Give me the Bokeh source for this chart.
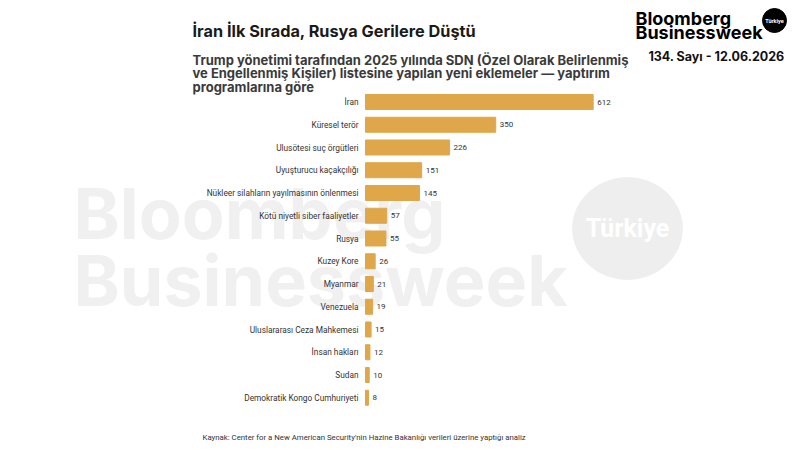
from bokeh.plotting import figure
from bokeh.models import Label, Range1d
from bokeh.core.properties import value
from bokeh.embed import file_html
from bokeh.resources import INLINE

categories = ["İran", "Küresel terör", "Ulusötesi suç örgütleri", "Uyuşturucu kaçakçılığı",
              "Nükleer silahların yayılmasının önlenmesi", "Kötü niyetli siber faaliyetler",
              "Rusya", "Kuzey Kore", "Myanmar", "Venezuela", "Uluslararası Ceza Mahkemesi",
              "İnsan hakları", "Sudan", "Demokratik Kongo Cumhuriyeti"]
values = [612, 350, 226, 151, 145, 57, 55, 26, 21, 19, 15, 12, 10, 8]
value_labels = [str(v) for v in values]

title = "İran İlk Sırada, Rusya Gerilere Düştü"
subtitle = ["Trump yönetimi tarafından 2025 yılında SDN (Özel Olarak Belirlenmiş",
            "ve Engellenmiş Kişiler) listesine yapılan yeni eklemeler — yaptırım",
            "programlarına göre"]
source = "Kaynak: Center for a New American Security'nin Hazine Bakanlığı verileri üzerine yaptığı analiz"
brand = ["Bloomberg", "Businessweek"]
issue = "134. Sayı - 12.06.2026"
badge = "Türkiye"

BAR = "#DFA74A"
FONT = "Roboto"
HEAD = "Inter"

W, H = 800, 450
X0 = 365            # pixel of value 0
K = 227.7 / 612     # pixels per unit
TOP_C, STEP = 101.5, 22.75   # first bar centre (px from top), row step
n = len(categories)
pos = [n - 1 - i for i in range(n)]   # row positions, first category on top

x_range = Range1d(-X0 / K, (W - X0) / K)
y_range = Range1d((n - 1) - (H - TOP_C) / STEP, (n - 1) + TOP_C / STEP)

p = figure(width=W, height=H, output_backend="svg", toolbar_location=None,
           x_range=x_range, y_range=y_range, x_axis_location=None, y_axis_location=None,
           min_border=0, min_border_left=0, min_border_right=0, min_border_top=0, min_border_bottom=0)
p.background_fill_color = "white"
p.border_fill_color = "white"
p.outline_line_color = None
p.grid.visible = False


def px_x(x):
    return (x - X0) / K


def px_y(y):
    return (n - 1) - (y - TOP_C) / STEP


def lab(x, y, text, size, color="#222222", style="normal", align="left", baseline="alphabetic",
        level="annotation", font=FONT):
    l = Label(x=x, y=H - y, x_units="screen", y_units="screen", text=text,
              text_font=font, text_font_size=size, text_color=color, text_font_style=style,
              text_align=align, text_baseline=baseline, level=level)
    p.add_layout(l)
    return l

# watermark
WM = "#f0f0f0"
lab(73, 213, brand[0], "70px", color=WM, style="bold", level="underlay", font=HEAD)
lab(73, 280, brand[1], "70px", color=WM, style="bold", level="underlay", font=HEAD)
p.ellipse(x=[px_x(627)], y=[px_y(228)], width=110 / K, height=102 / STEP,
          color="#eeeeee", level="underlay")
lab(627, 228, badge, "25px", color="white", style="bold", align="center", baseline="middle",
    level="underlay")

# bars
p.hbar(y=pos, right=values, left=0, height=0.66, color=BAR)
p.text(x=values, y=pos, text=value_labels, x_offset=4, text_baseline="middle",
       text_font=value(FONT), text_font_size="8px", text_color="#333333")
p.text(x=[0] * n, y=pos, text=categories, x_offset=-7, text_align="right", text_baseline="middle",
       text_font=value(FONT), text_font_size="8.3px", text_color="#333333")

# titles
lab(192, 30, title, "16.3px", style="bold", color="#1a1a1a", font=HEAD)
for i, s in enumerate(subtitle):
    lab(192, 59.5 + 13.4 * i, s, "13px", style="bold", color="#3a3a3a", font=HEAD)
lab(202, 437, source, "7.8px", color="#333333")

# brand block
lab(635, 17.5, brand[0], "18px", style="bold", color="#000000", font=HEAD)
lab(635, 32, brand[1], "18px", style="bold", color="#000000", font=HEAD)
p.ellipse(x=[px_x(774)], y=[px_y(20)], width=24 / K, height=24 / STEP, color="black")
lab(774, 20, badge, "5.5px", color="white", style="bold", align="center", baseline="middle")
lab(716, 56, issue, "12.5px", style="bold", color="#111111", align="center", font=HEAD)

out = file_html(p, INLINE)
open("out.html", "w").write(out)
